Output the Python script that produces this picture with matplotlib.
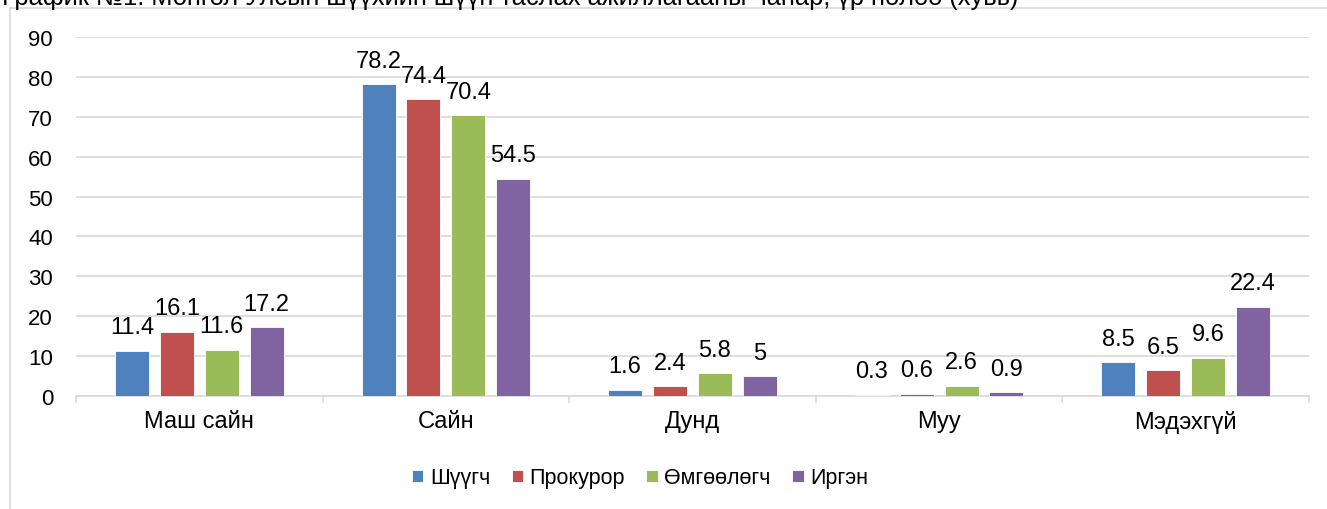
import numpy as np
import matplotlib.pyplot as plt
from matplotlib.lines import Line2D

plt.rcParams['font.family'] = ['Liberation Sans', 'DejaVu Sans']

categories = ['Маш сайн', 'Сайн', 'Дунд', 'Муу', 'Мэдэхгүй']
series_names = ['Шүүгч', 'Прокурор', 'Өмгөөлөгч', 'Иргэн']
shuugch = [11.4, 78.2, 1.6, 0.3, 8.5]
prokuror = [16.1, 74.4, 2.4, 0.6, 6.5]
omgoologch = [11.6, 70.4, 5.8, 2.6, 9.6]
irgen = [17.2, 54.5, 5, 0.9, 22.4]
series = [shuugch, prokuror, omgoologch, irgen]
colors = ['#4F81BD', '#C0504D', '#9BBB59', '#8064A2']
title = 'График №1. Монгол Улсын шүүхийн шүүн таслах ажиллагааны чанар, үр нөлөө (хувь)'

W, H = 1327, 510
fig = plt.figure(figsize=(W / 100, H / 100), dpi=100)
ax = fig.add_axes([76 / W, 1 - 397 / H, (1309 - 76) / W, (397 - 38) / H])

x = np.arange(len(categories))
bw = 0.138
step = 0.182
for i, (vals, name, c) in enumerate(zip(series, series_names, colors)):
    pos = x + (i - 1.5) * step
    bars = ax.bar(pos, vals, bw, color=c, edgecolor='white', linewidth=0.6, label=name, zorder=3)
    for b, v in zip(bars, vals):
        ax.annotate(f'{v:g}', (b.get_x() + b.get_width() / 2, v), xytext=(0, 12.5),
                    textcoords='offset points', ha='center', va='baseline', fontsize=17)

ax.set_xlim(-0.5, len(categories) - 0.5)
ax.set_ylim(0, 90)
ax.set_yticks(range(0, 91, 10))
ax.yaxis.grid(True, color='#D9D9D9', linewidth=1.2, zorder=0)
ax.set_axisbelow(True)
for s in ['top', 'right', 'left']:
    ax.spines[s].set_visible(False)
ax.spines['bottom'].set_color('#D9D9D9')
ax.spines['bottom'].set_linewidth(1.2)
ax.tick_params(axis='y', length=0, labelsize=16, pad=16.5)
ax.set_xticks(x)
ax.set_xticklabels(categories)
ax.tick_params(axis='x', length=0, labelsize=17, pad=10)
ax.set_xticks(np.arange(-0.5, len(categories), 1), minor=True)
ax.tick_params(axis='x', which='minor', length=5, color='#D9D9D9', width=1.2)

fig.legend(loc='center', bbox_to_anchor=(640 / W, 1 - 479 / H), ncol=4, frameon=False,
           fontsize=15.5, handlelength=0.53, handleheight=0.53, handletextpad=0.3,
           columnspacing=1.0)

# chart border
fig.add_artist(Line2D([10 / W, 10 / W], [0, 1 - 9 / H], color='#D9D9D9', linewidth=1.2))
fig.add_artist(Line2D([10 / W, 1], [1 - 9 / H, 1 - 9 / H], color='#D9D9D9', linewidth=1.2))

fig.text(1.5 / W, 1 - 5.5 / H, title, ha='left', va='baseline', fontsize=18.3)

fig.savefig('out.png', dpi=100)
